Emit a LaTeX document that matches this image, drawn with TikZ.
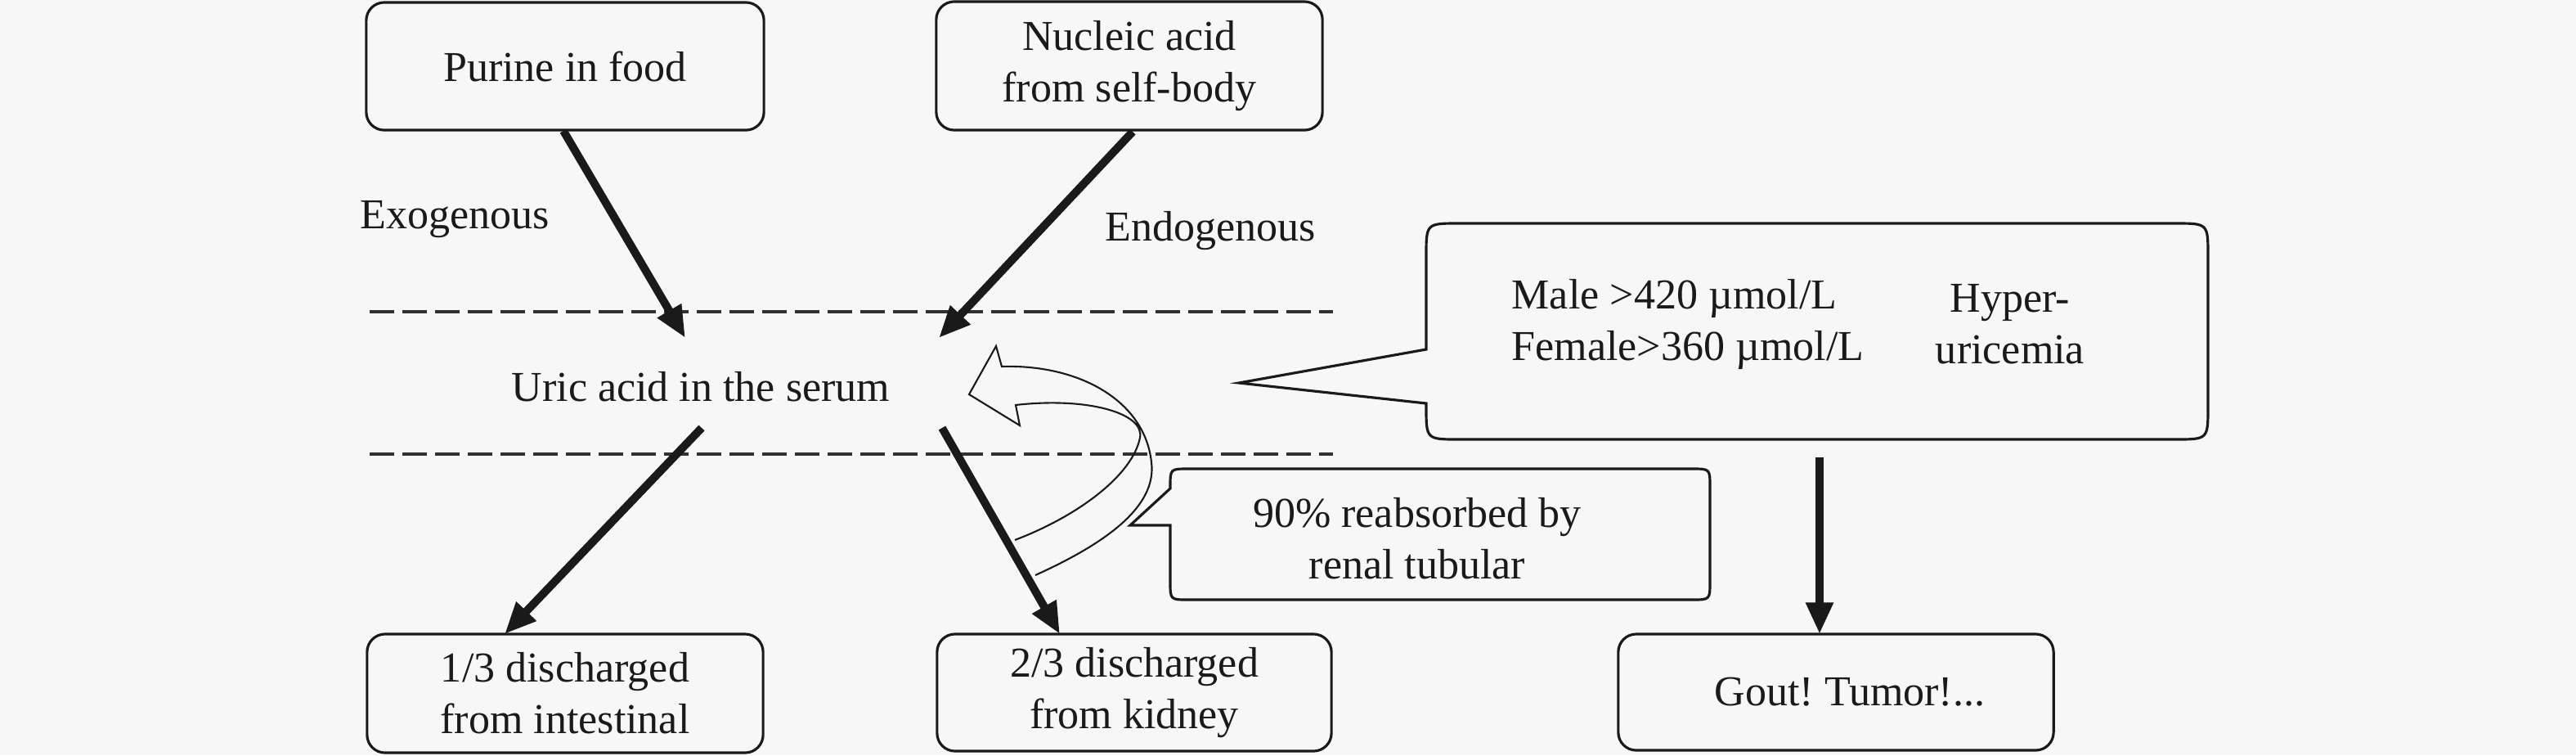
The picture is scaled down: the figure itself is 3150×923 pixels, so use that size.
\documentclass[tikz,border=0pt]{standalone}
\usepackage{fontspec}
\setmainfont{Liberation Serif}
\usetikzlibrary{arrows.meta}
\definecolor{bgcol}{HTML}{F7F7F7}
\definecolor{ink}{HTML}{1A1A1A}
\frenchspacing
\tikzset{
  txt/.style={font=\fontsize{14.8pt}{17.9pt}\selectfont, text=ink, inner sep=0pt, align=center},
  box/.style={txt, draw=ink, line width=0.9pt, rounded corners=0.22cm, fill=bgcol},
  bigarrow/.style={draw=ink, line width=2.8pt, -{Triangle[length=11pt,width=9pt]}},
  sepline/.style={draw=ink!90, line width=1.1pt, dash pattern=on 0.3cm off 0.1cm},
  calloutline/.style={draw=ink, line width=0.9pt, line join=miter},
  blockarrow/.style={draw=ink, line width=0.6pt, line join=miter}
}
\begin{document}
\begin{tikzpicture}[x=0.01cm,y=-0.01cm]
\useasboundingbox (0,0) rectangle (3150,923);
\fill[bgcol] (0,0) rectangle (3150,923);

% separation lines
\coordinate (d1a) at (452,381);
\coordinate (d1b) at (1630,381);
\coordinate (d2a) at (452,555);
\coordinate (d2b) at (1630,555);
\draw[sepline] (d1a) -- (d1b);
\draw[sepline] (d2a) -- (d2b);

% boxes
\node[box, minimum width=4.86cm, minimum height=1.56cm] (purine) at (691,81) {Purine in food};
\node[box, minimum width=4.72cm, minimum height=1.57cm] (nucleic) at (1381,80.5) {Nucleic acid\\from self-body};
\node[box, minimum width=4.84cm, minimum height=1.45cm] (intest) at (691,847.5) {1/3 discharged\\from intestinal};
\node[box, minimum width=4.82cm, minimum height=1.43cm] (kidney) at (1387,846.5) {2/3 discharged\\from kidney};
\node[box, minimum width=5.32cm, minimum height=1.42cm] (gout) at (2245,846) {\hspace*{0.34cm}Gout! Tumor!...};

% plain labels
\node[txt] (exo) at (556,268) {Exogenous};
\node[txt] (endo) at (1480,282) {Endogenous};
\node[txt] (serum) at (857,473) {Uric acid in the serum};

% big callout (hyperuricemia)
\coordinate (hbtip) at (1515,468);
\draw[calloutline] (1744,427) -- (hbtip) -- (1744,493) -- (1744,497)
  .. controls (1744,537) .. (1784,537) -- (2660,537)
  .. controls (2700,537) .. (2700,497) -- (2700,313)
  .. controls (2700,273) .. (2660,273) -- (1784,273)
  .. controls (1744,273) .. (1744,313) -- cycle;
\node[txt, align=left, anchor=west] (levels) at (1848,396) {Male >420 µmol/L\\Female>360 µmol/L};
\node[txt] (hyper) at (2458,396) {Hyper-\\uricemia};

% small callout (reabsorption)
\coordinate (rtip) at (1382,642);
\draw[calloutline] (1431,597) -- (rtip) -- (1431,642) -- (1431,711)
  .. controls (1431,733) .. (1453,733) -- (2069,733)
  .. controls (2091,733) .. (2091,711) -- (2091,595)
  .. controls (2091,573) .. (2069,573) -- (1453,573)
  .. controls (1431,573) .. (1431,595) -- cycle;
\node[txt] (reabs) at (1733,658) {90\% reabsorbed by\\renal tubular};

% thick arrows
\coordinate (s1) at (838,413);
\coordinate (s2) at (1148,413);
\coordinate (s3) at (858,523);
\coordinate (s4) at (1152,523);
\coordinate (t3) at (617,775);
\coordinate (t4) at (1296,775);
\coordinate (hb) at (2225,559);
\coordinate (gt) at (2225,775);
\coordinate (p0) at (689,160);
\coordinate (n0) at (1385,161);
\draw[bigarrow] (p0) -- (s1);
\draw[bigarrow] (n0) -- (s2);
\draw[bigarrow] (s3) -- (t3);
\draw[bigarrow] (s4) -- (t4);
\draw[bigarrow] (hb) -- (gt);

% curved block arrow (reabsorption loop)
\draw[blockarrow] (1266,703) .. controls (1350,665) and (1415,620) .. (1408,565)
  .. controls (1400,490) and (1320,445) .. (1225,448)
  -- (1218,423) -- (1185,482) -- (1247,520) -- (1242,495)
  .. controls (1330,485) and (1400,505) .. (1394,535)
  .. controls (1385,580) and (1320,630) .. (1241,660);
\end{tikzpicture}
\end{document}
